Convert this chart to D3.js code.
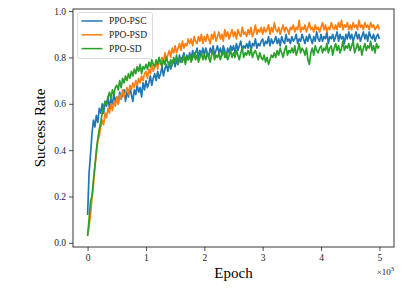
<!DOCTYPE html>
<html>
<head>
<meta charset="utf-8">
<script src="https://cdn.jsdelivr.net/npm/d3@7"></script>
<style>
	body { margin: 0; background: #fff; }
	text { font-family: "Liberation Serif", "DejaVu Serif", serif; }
</style>
</head>
<body>
<div class="chart-wrapper"></div>
<script>

// epochs sampled every 25
const epochs = d3.range(0, 5001, 25)

const psc = [
	0.12, 0.30, 0.38, 0.47, 0.53, 0.50, 0.55, 0.52, 0.58, 0.56,
	0.60, 0.56, 0.61, 0.59, 0.63, 0.58, 0.62, 0.60, 0.64, 0.61,
	0.63, 0.60, 0.65, 0.62, 0.64, 0.66, 0.61, 0.65, 0.63, 0.67,
	0.64, 0.61, 0.66, 0.64, 0.68, 0.65, 0.67, 0.63, 0.69, 0.66,
	0.70, 0.67, 0.69, 0.72, 0.68, 0.71, 0.73, 0.70, 0.74, 0.71,
	0.73, 0.76, 0.72, 0.75, 0.77, 0.74, 0.78, 0.75, 0.77, 0.79,
	0.76, 0.79, 0.77, 0.81, 0.78, 0.80, 0.82, 0.78, 0.81, 0.79,
	0.82, 0.79, 0.83, 0.80, 0.82, 0.84, 0.80, 0.83, 0.81, 0.84,
	0.81, 0.84, 0.82, 0.80, 0.84, 0.82, 0.85, 0.81, 0.83, 0.85,
	0.82, 0.84, 0.81, 0.85, 0.83, 0.80, 0.84, 0.82, 0.85, 0.83,
	0.85, 0.82, 0.86, 0.83, 0.85, 0.87, 0.83, 0.85, 0.84, 0.86,
	0.84, 0.87, 0.83, 0.86, 0.85, 0.88, 0.84, 0.86, 0.85, 0.87,
	0.88, 0.85, 0.87, 0.86, 0.89, 0.85, 0.88, 0.86, 0.87, 0.89,
	0.86, 0.88, 0.85, 0.89, 0.87, 0.86, 0.90, 0.87, 0.88, 0.86,
	0.89, 0.87, 0.88, 0.90, 0.86, 0.88, 0.87, 0.90, 0.88, 0.86,
	0.89, 0.87, 0.90, 0.88, 0.86, 0.89, 0.87, 0.91, 0.88, 0.87,
	0.90, 0.87, 0.89, 0.88, 0.91, 0.86, 0.89, 0.88, 0.90, 0.87,
	0.89, 0.91, 0.87, 0.90, 0.88, 0.89, 0.86, 0.90, 0.88, 0.91,
	0.88, 0.90, 0.87, 0.89, 0.91, 0.88, 0.90, 0.87, 0.89, 0.91,
	0.88, 0.90, 0.87, 0.91, 0.89, 0.88, 0.90, 0.87, 0.89, 0.90,
	0.88
]

const psd = [
	0.03, 0.07, 0.12, 0.19, 0.25, 0.33, 0.38, 0.44, 0.46, 0.50,
	0.53, 0.51, 0.56, 0.54, 0.58, 0.56, 0.60, 0.57, 0.61, 0.59,
	0.63, 0.60, 0.64, 0.62, 0.66, 0.63, 0.65, 0.67, 0.64, 0.68,
	0.66, 0.69, 0.67, 0.70, 0.68, 0.71, 0.69, 0.72, 0.70, 0.73,
	0.74, 0.71, 0.75, 0.73, 0.77, 0.74, 0.76, 0.78, 0.75, 0.79,
	0.77, 0.80, 0.78, 0.82, 0.79, 0.81, 0.83, 0.80, 0.84, 0.82,
	0.85, 0.82, 0.84, 0.86, 0.83, 0.87, 0.84, 0.86, 0.85, 0.88,
	0.86, 0.88, 0.85, 0.89, 0.87, 0.86, 0.89, 0.87, 0.90, 0.86,
	0.89, 0.87, 0.90, 0.88, 0.86, 0.90, 0.88, 0.91, 0.87, 0.89,
	0.91, 0.88, 0.90, 0.87, 0.92, 0.89, 0.91, 0.88, 0.90, 0.92,
	0.89, 0.91, 0.88, 0.92, 0.90, 0.89, 0.93, 0.90, 0.91, 0.89,
	0.92, 0.90, 0.93, 0.89, 0.91, 0.94, 0.90, 0.92, 0.91, 0.93,
	0.90, 0.93, 0.91, 0.92, 0.94, 0.90, 0.93, 0.91, 0.95, 0.92,
	0.91, 0.93, 0.90, 0.92, 0.94, 0.91, 0.93, 0.92, 0.90, 0.93,
	0.92, 0.94, 0.91, 0.93, 0.92, 0.96, 0.91, 0.93, 0.92, 0.94,
	0.91, 0.93, 0.95, 0.92, 0.93, 0.91, 0.94, 0.92, 0.93, 0.91,
	0.93, 0.95, 0.92, 0.94, 0.91, 0.93, 0.92, 0.95, 0.93, 0.92,
	0.94, 0.92, 0.95, 0.93, 0.96, 0.92, 0.94, 0.93, 0.95, 0.92,
	0.94, 0.92, 0.95, 0.93, 0.94, 0.92, 0.96, 0.93, 0.94, 0.92,
	0.95, 0.93, 0.94, 0.92, 0.95, 0.93, 0.94, 0.92, 0.93, 0.94,
	0.92
]

const sd = [
	0.03, 0.10, 0.18, 0.20, 0.27, 0.33, 0.40, 0.45, 0.49, 0.52,
	0.56, 0.59, 0.61, 0.60, 0.63, 0.65, 0.62, 0.66, 0.64, 0.67,
	0.68, 0.66, 0.70, 0.67, 0.71, 0.69, 0.72, 0.70, 0.73, 0.71,
	0.74, 0.72, 0.75, 0.73, 0.76, 0.74, 0.77, 0.73, 0.76, 0.75,
	0.77, 0.75, 0.78, 0.76, 0.79, 0.77, 0.76, 0.79, 0.77, 0.80,
	0.78, 0.76, 0.79, 0.77, 0.80, 0.78, 0.76, 0.79, 0.77, 0.80,
	0.78, 0.81, 0.77, 0.79, 0.80, 0.78, 0.81, 0.77, 0.80, 0.79,
	0.81, 0.78, 0.80, 0.82, 0.79, 0.81, 0.78, 0.80, 0.82, 0.79,
	0.81, 0.79, 0.82, 0.80, 0.78, 0.81, 0.83, 0.79, 0.81, 0.80,
	0.82, 0.79, 0.81, 0.83, 0.80, 0.82, 0.79, 0.81, 0.83, 0.80,
	0.82, 0.80, 0.83, 0.81, 0.79, 0.82, 0.84, 0.80, 0.82, 0.81,
	0.83, 0.81, 0.84, 0.80, 0.82, 0.83, 0.81, 0.79, 0.82, 0.80,
	0.79, 0.81, 0.78, 0.80, 0.77, 0.79, 0.81, 0.80, 0.82, 0.80,
	0.83, 0.81, 0.84, 0.82, 0.80, 0.83, 0.85, 0.81, 0.83, 0.82,
	0.84, 0.82, 0.85, 0.81, 0.83, 0.86, 0.82, 0.84, 0.83, 0.81,
	0.84, 0.79, 0.77, 0.82, 0.84, 0.81, 0.85, 0.83, 0.82, 0.84,
	0.85, 0.82, 0.84, 0.83, 0.86, 0.82, 0.84, 0.85, 0.81, 0.84,
	0.86, 0.83, 0.85, 0.82, 0.84, 0.87, 0.83, 0.85, 0.84, 0.86,
	0.83, 0.85, 0.87, 0.82, 0.84, 0.86, 0.83, 0.85, 0.81, 0.84,
	0.86, 0.83, 0.85, 0.84, 0.87, 0.83, 0.85, 0.82, 0.86, 0.84,
	0.85
]

const seriesNames = ['PPO-PSC', 'PPO-PSD', 'PPO-SD']
const seriesColors = ['#1f77b4', '#ff7f0e', '#2ca02c']
const xTicks = [0, 1000, 2000, 3000, 4000, 5000]
const yTicks = [0, 0.2, 0.4, 0.6, 0.8, 1.0]

const width = 407, height = 291
const margin = {left: 73, right: 13, top: 9, bottom: 44}
const serif = '"Liberation Serif", "DejaVu Serif", serif'

let svg = d3.select('.chart-wrapper').append('svg')
.attr('width', width)
.attr('height', height)

let x = d3.scaleLinear()
.domain([-250, 5250])
.range([margin.left, width - margin.right])

let y = d3.scaleLinear()
.domain([-0.018, 1.009])
.range([height - margin.bottom, margin.top])

let line = d3.line()
.x((d, i) => x(epochs[i]))
.y(d => y(d))

let allSeries = [psc, psd, sd]

allSeries.map((s, k) => {
	svg.append('path')
	.datum(s)
	.attr('fill', 'none')
	.attr('stroke', seriesColors[k])
	.attr('stroke-width', 1.7)
	.attr('stroke-linejoin', 'round')
	.attr('d', line)
})

// axes
let xAxis = svg.append('g')
.attr('transform', `translate(0,${height - margin.bottom})`)
.call(d3.axisBottom(x).tickValues(xTicks).tickSize(4).tickPadding(3).tickFormat(d => d / 1000))

let yAxis = svg.append('g')
.attr('transform', `translate(${margin.left},0)`)
.call(d3.axisLeft(y).tickValues(yTicks).tickSize(4).tickPadding(3).tickFormat(d3.format('.1f')))

xAxis.select('.domain').remove()
yAxis.select('.domain').remove()
xAxis.attr('font-family', null)
yAxis.attr('font-family', null)

svg.selectAll('.tick text')
.style('font-family', serif)
.attr('font-size', 9.5)
.attr('fill', '#222')

svg.selectAll('.tick line').attr('stroke', '#222').attr('stroke-width', 0.8)

// frame
svg.append('rect')
.attr('x', margin.left)
.attr('y', margin.top)
.attr('width', width - margin.left - margin.right)
.attr('height', height - margin.top - margin.bottom)
.attr('fill', 'none')
.attr('stroke', '#222')
.attr('stroke-width', 0.9)

// labels
svg.append('text')
.attr('x', (margin.left + width - margin.right) / 2)
.attr('y', 278)
.attr('text-anchor', 'middle')
.attr('font-size', 15)
.text('Epoch')

svg.append('text')
.attr('transform', `translate(45,${(margin.top + height - margin.bottom) / 2}) rotate(-90)`)
.attr('text-anchor', 'middle')
.attr('font-size', 15)
.text('Success Rate')

let offset = svg.append('text')
.attr('x', width - margin.right)
.attr('y', 275)
.attr('text-anchor', 'end')
.attr('font-size', 9)
.attr('fill', '#222')
offset.append('tspan').text('×10')
offset.append('tspan').attr('dy', -4).attr('font-size', 6.5).text('3')

// legend
let legend = svg.append('g').attr('transform', 'translate(77.5,12.5)')

legend.append('rect')
.attr('width', 75)
.attr('height', 46)
.attr('rx', 2)
.attr('fill', 'rgba(255,255,255,0.8)')
.attr('stroke', '#d0d0d0')
.attr('stroke-width', 0.8)

seriesNames.map((n, k) => {
	let ry = 8.5 + k * 13.8
	legend.append('line')
	.attr('x1', 4).attr('x2', 25)
	.attr('y1', ry).attr('y2', ry)
	.attr('stroke', seriesColors[k])
	.attr('stroke-width', 1.5)
	legend.append('text')
	.attr('x', 31.5)
	.attr('y', ry + 3.3)
	.attr('font-size', 9.5)
	.attr('fill', '#222')
	.text(n)
})

</script>
</body>
</html>
